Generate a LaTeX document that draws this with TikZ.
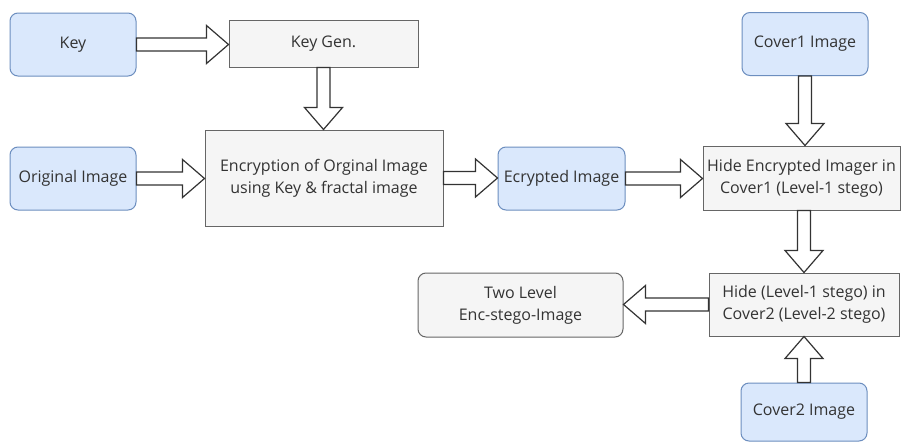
\documentclass[tikz,border=0pt]{standalone}
\usepackage{fontspec}
\setmainfont{Open Sans}
\usetikzlibrary{calc}
\definecolor{bluefill}{HTML}{DAE8FC}
\definecolor{blueline}{HTML}{6C8EBF}
\definecolor{grayfill}{HTML}{F5F5F5}
\definecolor{grayline}{HTML}{666666}
\definecolor{txt}{HTML}{333333}
\definecolor{arrowline}{HTML}{333333}
\begin{document}
\begin{tikzpicture}[x=1pt,y=-1pt,
  base/.style={font=\fontsize{16}{22}\selectfont, align=center, inner sep=1pt, text=txt, line width=1pt},
  bluebox/.style={base, draw=blueline, fill=bluefill, rounded corners=8pt, minimum width=126pt, minimum height=63pt},
  graybox/.style={base, draw=grayline, fill=grayfill},
  grayround/.style={graybox, rounded corners=8pt},
  blockarrow/.style={draw=arrowline, fill=white, line width=1.2pt, line join=miter,
    to path={
      ($(\tikztostart)!6.5pt!90:(\tikztotarget)$)
      -- ($($(\tikztotarget)!22pt!(\tikztostart)$)!6.5pt!-90:(\tikztostart)$)
      -- ($($(\tikztotarget)!22pt!(\tikztostart)$)!19pt!-90:(\tikztostart)$)
      -- (\tikztotarget)
      -- ($($(\tikztotarget)!22pt!(\tikztostart)$)!19pt!90:(\tikztostart)$)
      -- ($($(\tikztotarget)!22pt!(\tikztostart)$)!6.5pt!90:(\tikztostart)$)
      -- ($(\tikztostart)!6.5pt!-90:(\tikztotarget)$)
      -- cycle}}
]
\useasboundingbox[fill=white] (0,0) rectangle (903,442);

\node[bluebox] (key) at (73,44.5) {Key};
\node[graybox, minimum width=189pt, minimum height=47pt] (keygen) at (323.5,43.5) {Key Gen.};
\node[graybox, minimum width=238pt, minimum height=96pt] (enc) at (324,178) {Encryption of Orginal Image\\using Key \& fractal image};
\node[bluebox] (orig) at (73,178.5) {Original Image};
\node[bluebox, minimum width=127pt] (ecr) at (561.5,178.5) {Ecrypted Image};
\node[bluebox] (cov1) at (805,44) {Cover1 Image};
\node[graybox, minimum width=197pt, minimum height=64pt] (hide1) at (801.5,178) {Hide Encrypted Imager in\\Cover1 (Level-1 stego)};
\node[graybox, minimum width=190pt, minimum height=63pt] (hide2) at (804,304.5) {Hide (Level-1 stego) in\\Cover2 (Level-2 stego)};
\node[grayround, minimum width=205pt, minimum height=64pt] (two) at (520.5,305) {Two Level\\Enc-stego-Image};
\node[bluebox, minimum height=58pt] (cov2) at (804,412) {Cover2 Image};

\draw[blockarrow] (key.east) to (key.east -| keygen.west);
\draw[blockarrow] (keygen.south) to (keygen.south |- enc.north);
\draw[blockarrow] (orig.east) to (orig.east -| enc.west);
\draw[blockarrow] (enc.east) to (enc.east -| ecr.west);
\draw[blockarrow] (ecr.east) to (ecr.east -| hide1.west);
\draw[blockarrow] (cov1.south) to (cov1.south |- hide1.north);
\draw[blockarrow] (hide2.north |- hide1.south) to (hide2.north);
\draw[blockarrow] (hide2.west) to (hide2.west -| two.east);
\draw[blockarrow] (cov2.north) to (cov2.north |- hide2.south);
\end{tikzpicture}
\end{document}
